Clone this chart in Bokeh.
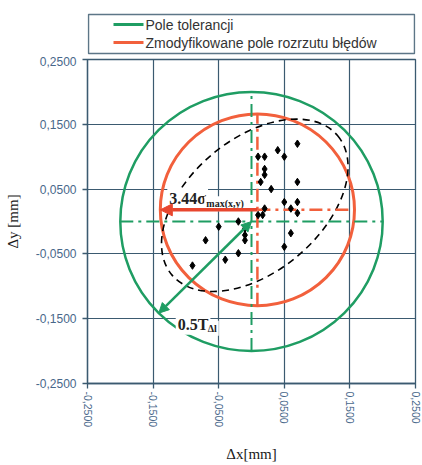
import math
from bokeh.plotting import figure
from bokeh.models import Range1d, FixedTicker, CustomJSTickFormatter, Arrow, NormalHead
from bokeh.layouts import column
from bokeh.embed import file_html
from bokeh.resources import INLINE
from bokeh.core.properties import value

# ---------------- data ----------------
dx = [0.070, 0.040, 0.050, 0.010, 0.020, 0.020, 0.020, 0.014, 0.070, 0.030,
      0.050, 0.070, 0.060, 0.020, 0.070, 0.017, 0.010, -0.020, -0.050, -0.010,
      -0.010, -0.010, 0.060, 0.050, -0.070, -0.020, -0.040, -0.090]
dy = [0.120, 0.110, 0.100, 0.100, 0.100, 0.081, 0.072, 0.061, 0.061, 0.050,
      0.030, 0.030, 0.020, 0.020, 0.013, 0.010, 0.010, 0.000, -0.008, -0.011,
      -0.021, -0.029, -0.018, -0.039, -0.029, -0.049, -0.059, -0.068]

tick_values = [-0.25, -0.15, -0.05, 0.05, 0.15, 0.25]

tol_cx, tol_cy, tol_r = 0.0, 0.0, 0.2          # Pole tolerancji
mod_cx, mod_cy, mod_r = 0.009, 0.018, 0.148    # Zmodyfikowane pole rozrzutu
ell_cx, ell_cy = 0.005, 0.025                  # scatter ellipse
ell_w, ell_h, ell_angle_deg = 0.33, 0.205, 40.0
tol_arrow_angle_deg = 225.0

legend_labels = ["Pole tolerancji", "Zmodyfikowane pole rozrzutu błędów"]
sigma_label = "3.44σ"
sigma_sub = "max(x,y)"
tol_label = "0.5T"
tol_sub = "Δl"

# ---------------- styles ----------------
GREEN = "#1f9d63"
ORANGE = "#f2603c"
RED = "#e8462e"
GRID = "#3b5a70"
TICKCOL = "#48678a"

W = 422
BL, BR = 87, 7

p = figure(width=W, height=409,
           x_range=Range1d(-0.25, 0.25), y_range=Range1d(-0.25, 0.25),
           output_backend="svg", toolbar_location=None,
           min_border_left=BL, min_border_right=BR,
           min_border_top=3, min_border_bottom=81)

fmt = CustomJSTickFormatter(code="return tick.toFixed(4).replace('.', ',');")
for ax in (p.xaxis[0], p.yaxis[0]):
    ax.ticker = FixedTicker(ticks=tick_values)
    ax.formatter = fmt
    ax.axis_line_color = GRID
    ax.axis_line_width = 1.3
    ax.major_tick_line_color = GRID
    ax.major_tick_line_width = 1.3
    ax.major_tick_out = 5
    ax.major_tick_in = 0
    ax.minor_tick_line_color = None
    ax.major_label_text_font = "Liberation Sans"
    ax.major_label_text_color = TICKCOL
    ax.axis_label_text_font = "Liberation Serif"
    ax.axis_label_text_font_style = "normal"
    ax.axis_label_text_font_size = "15px"
    ax.axis_label_text_color = "#1a1a1a"

p.xaxis.major_label_text_font_size = "10.5px"
p.yaxis.major_label_text_font_size = "12px"
p.xaxis.major_label_orientation = -math.pi / 2
p.xaxis.major_label_standoff = 3
p.yaxis.major_label_standoff = 6
p.xaxis.axis_label = "Δx[mm]"
p.yaxis.axis_label = "Δy [mm]"
p.xaxis.axis_label_standoff = 16
p.yaxis.axis_label_standoff = 12

p.grid.grid_line_color = GRID
p.grid.grid_line_width = 1.2
p.outline_line_color = GRID
p.outline_line_width = 1.3

# tolerance circle
p.ellipse(x=[tol_cx], y=[tol_cy], width=[2 * tol_r], height=[2 * tol_r],
          fill_color=None, line_color=GREEN, line_width=2.5)
# modified circle
p.ellipse(x=[mod_cx], y=[mod_cy], width=[2 * mod_r], height=[2 * mod_r],
          fill_color=None, line_color=ORANGE, line_width=3)
# scatter ellipse
p.ellipse(x=[ell_cx], y=[ell_cy], width=[ell_w], height=[ell_h],
          angle=[math.radians(ell_angle_deg)],
          fill_color=None, line_color="black", line_width=1.6, line_dash="7 5")

# dash-dot axes of the tolerance circle
p.segment(x0=[tol_cx - tol_r, tol_cx], y0=[tol_cy, tol_cy - tol_r],
          x1=[tol_cx + tol_r, tol_cx], y1=[tol_cy, tol_cy + tol_r],
          line_color=GREEN, line_width=2, line_dash="13 5 3 5")
# dash-dot axes of the modified circle
p.segment(x0=[mod_cx, mod_cx], y0=[mod_cy, mod_cy - mod_r],
          x1=[mod_cx + mod_r, mod_cx], y1=[mod_cy, mod_cy + mod_r],
          line_color=ORANGE, line_width=2.5, line_dash="13 5 3 5")

# data points
p.scatter(dx, dy, marker="diamond", size=7.5, fill_color="black", line_color="black")

# arrows
red_end_x = mod_cx - mod_r
p.add_layout(Arrow(end=NormalHead(size=12, fill_color=RED, line_color=RED),
                   x_start=mod_cx, y_start=mod_cy, x_end=red_end_x, y_end=mod_cy,
                   line_color=RED, line_width=3.5))
ga = math.radians(tol_arrow_angle_deg)
g_end_x = tol_cx + tol_r * math.cos(ga)
g_end_y = tol_cy + tol_r * math.sin(ga)
p.add_layout(Arrow(start=NormalHead(size=10, fill_color=GREEN, line_color=GREEN),
                   end=NormalHead(size=10, fill_color=GREEN, line_color=GREEN),
                   x_start=tol_cx, y_start=tol_cy, x_end=g_end_x, y_end=g_end_y,
                   line_color=GREEN, line_width=2.5))

# annotations text
txt = dict(text_font=value("Liberation Serif"), text_font_style="bold",
           text_color="#222222", text_align="left", text_baseline="alphabetic",
           background_fill_color="white", padding=2)
p.text(x=[red_end_x], y=[mod_cy], text=[sigma_label], x_offset=7, y_offset=-11,
       text_font_size="16px", **txt)
p.text(x=[red_end_x], y=[mod_cy], text=[sigma_sub], x_offset=44, y_offset=-6,
       text_font_size="10px", **txt)
p.text(x=[g_end_x], y=[g_end_y], text=[tol_label], x_offset=17, y_offset=11,
       text_font_size="16px", **txt)
p.text(x=[g_end_x], y=[g_end_y], text=[tol_sub], x_offset=47, y_offset=15,
       text_font_size="10px", **txt)

# ---------------- legend strip (same side borders -> pixel coordinates) ----------------
LH = 56
leg = figure(width=W, height=LH, x_range=Range1d(BL, W - BR), y_range=Range1d(LH, 0),
             output_backend="svg", toolbar_location=None,
             min_border_left=BL, min_border_right=BR, min_border_top=0, min_border_bottom=0,
             x_axis_location=None, y_axis_location=None)
leg.outline_line_color = None
leg.grid.visible = False
leg.quad(left=[88], right=[W - BR - 1], top=[14], bottom=[53], fill_color=None,
         line_color="#5d7687", line_width=1.5)
leg.segment(x0=[113, 113], y0=[24, 42], x1=[143, 143], y1=[24, 42],
            line_color=[GREEN, ORANGE], line_width=3)
leg.text(x=[145, 145], y=[24, 42], text=legend_labels, text_baseline="middle",
         text_align="left", text_font=value("Liberation Sans"),
         text_font_size="14px", text_color="#333333")

layout = column(leg, p, spacing=0)
open("out.html", "w").write(file_html(layout, INLINE))
